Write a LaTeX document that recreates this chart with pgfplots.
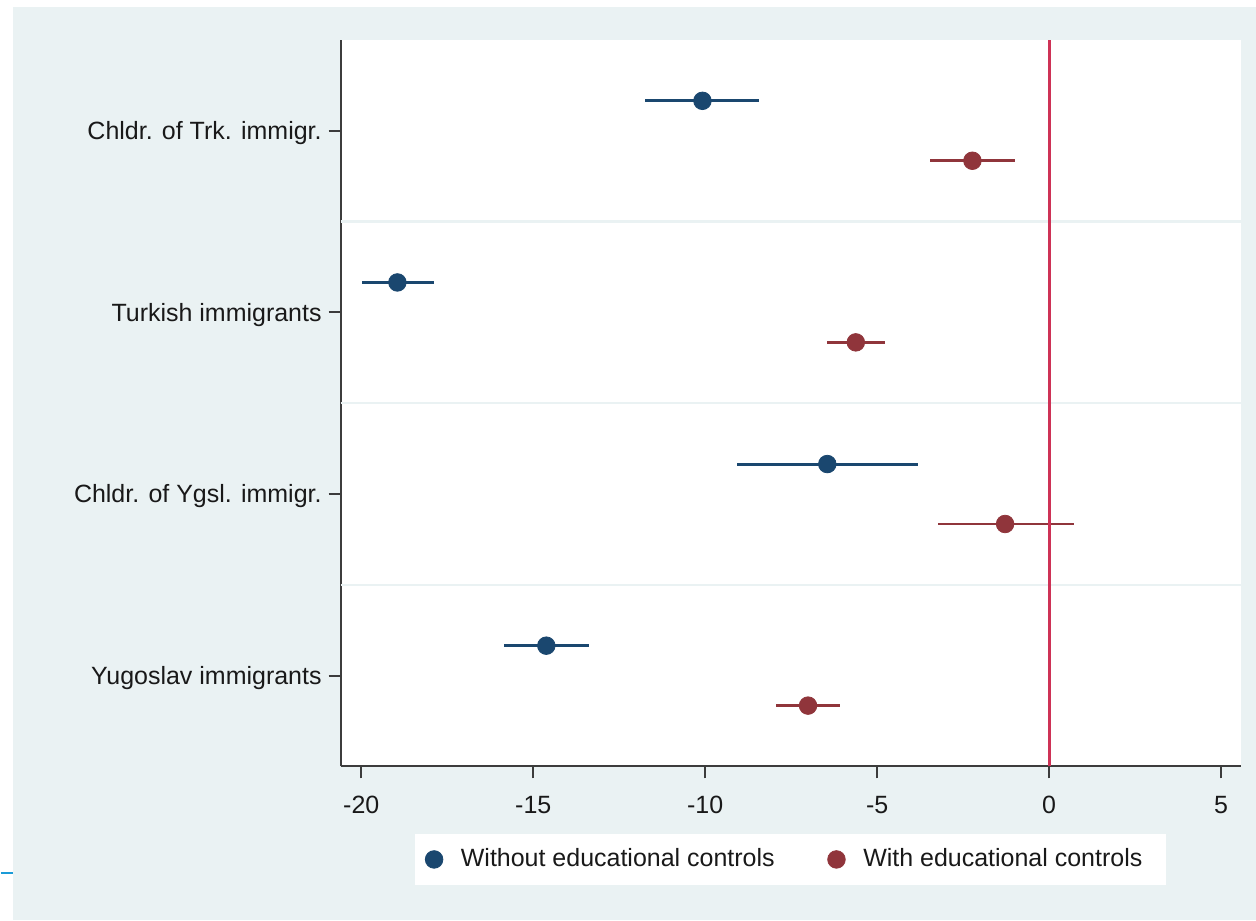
\documentclass[border=0pt]{standalone}
\usepackage{pgfplots}
\pgfplotsset{compat=1.18}
\usepackage{pgfplotstable}
\usepackage{fontspec}
\setmainfont{Liberation Sans}
\definecolor{bgc}{RGB}{234,242,243}
\definecolor{navyc}{RGB}{26,71,111}
\definecolor{maroonc}{RGB}{144,53,59}
\definecolor{zeroc}{RGB}{206,50,86}
\definecolor{axc}{RGB}{60,60,60}
\definecolor{txtc}{RGB}{25,25,25}
\definecolor{edgec}{RGB}{26,155,215}

% y, x, error plus, error minus
\pgfplotstableread{
y      x       ep    em
4.165  -10.08  1.65  1.66
3.165  -18.95  1.05  1.04
2.165  -6.45   2.65  2.62
1.165  -14.62  1.23  1.22
}\without
\pgfplotstableread{
y      x      ep    em
3.835  -2.23  1.24  1.23
2.835  -5.62  0.85  0.83
1.835  -1.28  1.99  1.96
0.835  -7.01  0.92  0.93
}\withc

\begin{document}
\begin{tikzpicture}
\fill[white] (0,0) rectangle (628pt,460.5pt);
\fill[bgc] (6pt,0) rectangle (628pt,457pt);
\draw[edgec, line width=0.9pt] (0,23.5pt) -- (6pt,23.5pt);
\begin{axis}[
  at={(170pt,77pt)}, anchor=south west,
  scale only axis,
  width=450.5pt, height=363.5pt,
  xmin=-20.6, xmax=5.58,
  ymin=0.5, ymax=4.5,
  axis background/.style={fill=white},
  axis x line*=bottom, axis y line*=left,
  axis line style={-, draw=axc, line width=1pt},
  tick align=outside,
  major tick length=6pt,
  tick style={draw=axc, line width=1pt},
  xtick={-20,-15,-10,-5,0,5},
  xticklabels={-20,-15,-10,-5,0,5},
  ytick={1,2,3,4},
  yticklabels={Yugoslav immigrants, Chldr. of Ygsl. immigr., Turkish immigrants, Chldr. of Trk. immigr.},
  extra y ticks={1.5,2.5,3.5},
  extra y tick labels={},
  extra y tick style={major tick length=0pt, ymajorgrids=true, major grid style={draw=bgc, line width=1.2pt}},
  tick label style={font=\fontsize{12.5}{15}\selectfont, text=txtc},
  xticklabel style={yshift=-5.5pt},
  yticklabel style={yshift=-1.2pt},
  legend style={at={(0.5,-0.128)}, anchor=center, draw=none, fill=white,
    legend columns=2, font=\fontsize{12.5}{15}\selectfont, text=txtc,
    inner xsep=5pt, inner ysep=5.5pt,
    /tikz/every odd column/.append style={column sep=7pt},
    /tikz/every even column/.append style={column sep=24.5pt}},
  legend image code/.code={\draw[#1] plot coordinates {(0pt,0pt)};},
  clip=false,
]
\addplot[only marks, mark=*, mark size=4.4pt, color=navyc,
  error bars/.cd, x dir=both, x explicit, error mark=none,
  error bar style={line width=1.45pt, color=navyc}]
  table[x=x, y=y, x error plus=ep, x error minus=em] {\without};
\addlegendentry{Without educational controls}
\addplot[only marks, mark=*, mark size=4.4pt, color=maroonc,
  error bars/.cd, x dir=both, x explicit, error mark=none,
  error bar style={line width=1.45pt, color=maroonc}]
  table[x=x, y=y, x error plus=ep, x error minus=em] {\withc};
\addlegendentry{With educational controls\hspace*{5pt}}
\addplot[zeroc, line width=1.4pt, forget plot] coordinates {(0,0.5) (0,4.5)};
\end{axis}
\end{tikzpicture}
\end{document}
